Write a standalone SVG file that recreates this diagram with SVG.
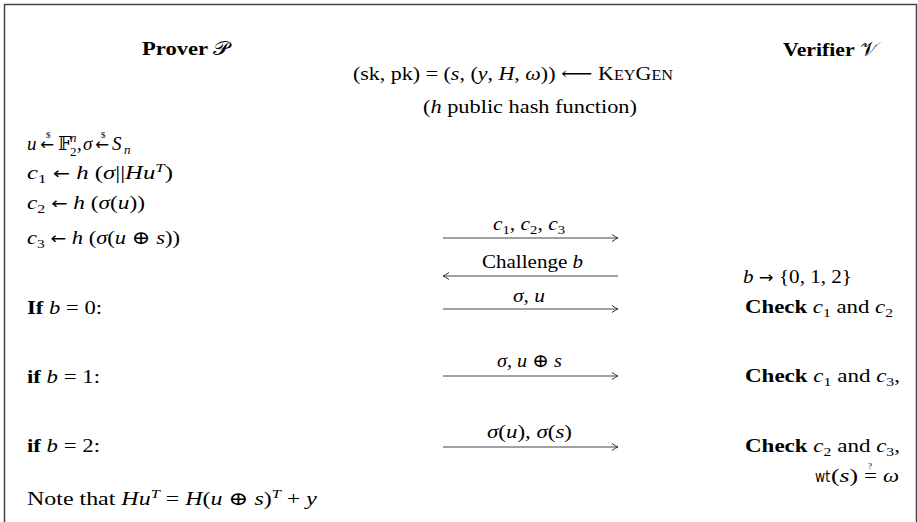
<svg xmlns="http://www.w3.org/2000/svg" width="918" height="522" viewBox="0 0 918 522">
<style>
.t{font-family:"Liberation Serif","DejaVu Serif",serif;font-size:19px;fill:#000}
.i{font-style:italic}
.b{font-weight:bold}
.n{font-weight:normal}
.s{font-size:13px}
.tiny{font-size:9px}
.sym{font-family:"DejaVu Sans",sans-serif;font-size:16px;font-style:normal}
.sf{font-family:"DejaVu Sans","Liberation Sans",sans-serif;font-size:16px}
.ar{stroke:#444;stroke-width:1;fill:none}
</style>
<defs>
<marker id="ah" markerWidth="10" markerHeight="10" refX="0" refY="0" viewBox="-8 -5 10 10" orient="auto" markerUnits="userSpaceOnUse">
<path d="M-6,-3.5 Q-2,-0.6 0,0 Q-2,0.6 -6,3.5" stroke="#333" stroke-width="1" fill="none"/>
</marker>
</defs>
<rect x="4.5" y="4.5" width="912" height="540" fill="#fff" stroke="#444" stroke-width="1.5"/>

<g id="prover-title"><text class="t b" x="142" y="55" textLength="88" lengthAdjust="spacingAndGlyphs">Prover <tspan class="n">𝒫</tspan></text></g>
<g id="verifier-title"><text class="t b" x="783" y="56" textLength="95" lengthAdjust="spacingAndGlyphs">Verifier <tspan class="n">𝒱</tspan></text></g>
<g id="keygen"><text class="t" x="353" y="80" textLength="320" lengthAdjust="spacingAndGlyphs">(sk, pk) = (<tspan class="i">s</tspan>, (<tspan class="i">y</tspan>, <tspan class="i">H</tspan>, <tspan class="i">ω</tspan>)) ⟵ K<tspan font-size="14">EY</tspan>G<tspan font-size="14">EN</tspan></text></g>
<g id="hash"><text class="t" x="423" y="113" textLength="214" lengthAdjust="spacingAndGlyphs">(<tspan class="i">h</tspan> public hash function)</text></g>

<g id="prover-steps">
<text class="t i" x="27" y="150">u</text>
<text class="t sym" x="40" y="150" textLength="14" lengthAdjust="spacingAndGlyphs">←</text>
<text class="t tiny" x="46" y="138">$</text>
<text class="t" x="58" y="150">𝔽</text>
<text class="t s i" x="70" y="142">n</text>
<text class="t s" x="70" y="156">2</text>
<text class="t" x="77" y="150">,</text>
<text class="t i" x="83" y="150">σ</text>
<text class="t sym" x="95" y="150" textLength="14" lengthAdjust="spacingAndGlyphs">←</text>
<text class="t tiny" x="101" y="138">$</text>
<text class="t i" x="112" y="150">S</text>
<text class="t s i" x="124" y="154">n</text>

<text class="t" x="27" y="179" textLength="146" lengthAdjust="spacingAndGlyphs"><tspan class="i">c</tspan><tspan class="s" dy="4">1</tspan><tspan dy="-4"> </tspan><tspan class="sym">←</tspan> <tspan class="i">h</tspan> (<tspan class="i">σ</tspan>||<tspan class="i">Hu</tspan><tspan class="s i" dy="-7">T</tspan><tspan dy="7">)</tspan></text>
<text class="t" x="27" y="209" textLength="118" lengthAdjust="spacingAndGlyphs"><tspan class="i">c</tspan><tspan class="s" dy="4">2</tspan><tspan dy="-4"> </tspan><tspan class="sym">←</tspan> <tspan class="i">h</tspan> (<tspan class="i">σ</tspan>(<tspan class="i">u</tspan>))</text>
<text class="t" x="27" y="244" textLength="153" lengthAdjust="spacingAndGlyphs"><tspan class="i">c</tspan><tspan class="s" dy="4">3</tspan><tspan dy="-4"> </tspan><tspan class="sym">←</tspan> <tspan class="i">h</tspan> (<tspan class="i">σ</tspan>(<tspan class="i">u</tspan> ⊕ <tspan class="i">s</tspan>))</text>
</g>

<g id="case0"><text class="t" x="27" y="314" textLength="75" lengthAdjust="spacingAndGlyphs"><tspan class="b">If</tspan> <tspan class="i">b</tspan> = 0:</text></g>
<g id="case1"><text class="t" x="27" y="383" textLength="73" lengthAdjust="spacingAndGlyphs"><tspan class="b">if</tspan> <tspan class="i">b</tspan> = 1:</text></g>
<g id="case2"><text class="t" x="27" y="452" textLength="73" lengthAdjust="spacingAndGlyphs"><tspan class="b">if</tspan> <tspan class="i">b</tspan> = 2:</text></g>
<g id="note"><text class="t" x="27" y="505" textLength="290" lengthAdjust="spacingAndGlyphs">Note that <tspan class="i">Hu</tspan><tspan class="s i" dy="-7">T</tspan><tspan dy="7"> = </tspan><tspan class="i">H</tspan>(<tspan class="i">u</tspan> ⊕ <tspan class="i">s</tspan>)<tspan class="s i" dy="-7">T</tspan><tspan dy="7"> + </tspan><tspan class="i">y</tspan></text></g>

<g id="verifier-steps">
<text class="t" x="743" y="283" textLength="109" lengthAdjust="spacingAndGlyphs"><tspan class="i">b</tspan> <tspan class="sym">→</tspan> {0, 1, 2}</text>
<text class="t" x="745" y="313" textLength="148" lengthAdjust="spacingAndGlyphs"><tspan class="b">Check</tspan> <tspan class="i">c</tspan><tspan class="s" dy="4">1</tspan><tspan dy="-4"> and </tspan><tspan class="i">c</tspan><tspan class="s" dy="4">2</tspan></text>
<text class="t" x="745" y="382" textLength="155" lengthAdjust="spacingAndGlyphs"><tspan class="b">Check</tspan> <tspan class="i">c</tspan><tspan class="s" dy="4">1</tspan><tspan dy="-4"> and </tspan><tspan class="i">c</tspan><tspan class="s" dy="4">3</tspan><tspan dy="-4">,</tspan></text>
<text class="t" x="745" y="452" textLength="155" lengthAdjust="spacingAndGlyphs"><tspan class="b">Check</tspan> <tspan class="i">c</tspan><tspan class="s" dy="4">2</tspan><tspan dy="-4"> and </tspan><tspan class="i">c</tspan><tspan class="s" dy="4">3</tspan><tspan dy="-4">,</tspan></text>
<text class="t sf" x="815" y="482" textLength="15" lengthAdjust="spacingAndGlyphs">wt</text>
<text class="t" x="831" y="482" textLength="27" lengthAdjust="spacingAndGlyphs">(<tspan class="i">s</tspan>)</text>
<text class="t" x="864" y="482" textLength="13" lengthAdjust="spacingAndGlyphs">=</text>
<text class="t tiny" x="868" y="469">?</text>
<text class="t i" x="883" y="482" textLength="16" lengthAdjust="spacingAndGlyphs">ω</text>
</g>

<g id="connectors">
<line class="ar" x1="443" y1="238" x2="618" y2="238" marker-end="url(#ah)"/>
<line class="ar" x1="618" y1="276" x2="443" y2="276" marker-end="url(#ah)"/>
<line class="ar" x1="443" y1="309" x2="618" y2="309" marker-end="url(#ah)"/>
<line class="ar" x1="443" y1="376" x2="618" y2="376" marker-end="url(#ah)"/>
<line class="ar" x1="443" y1="447" x2="618" y2="447" marker-end="url(#ah)"/>
<text class="t" x="493" y="230" textLength="72" lengthAdjust="spacingAndGlyphs"><tspan class="i">c</tspan><tspan class="s" dy="4">1</tspan><tspan dy="-4">, </tspan><tspan class="i">c</tspan><tspan class="s" dy="4">2</tspan><tspan dy="-4">, </tspan><tspan class="i">c</tspan><tspan class="s" dy="4">3</tspan></text>
<text class="t" x="482" y="268" textLength="101" lengthAdjust="spacingAndGlyphs">Challenge <tspan class="i">b</tspan></text>
<text class="t" x="513" y="302" textLength="32" lengthAdjust="spacingAndGlyphs"><tspan class="i">σ</tspan>, <tspan class="i">u</tspan></text>
<text class="t" x="497" y="367" textLength="65" lengthAdjust="spacingAndGlyphs"><tspan class="i">σ</tspan>, <tspan class="i">u</tspan> ⊕ <tspan class="i">s</tspan></text>
<text class="t" x="487" y="438" textLength="85" lengthAdjust="spacingAndGlyphs"><tspan class="i">σ</tspan>(<tspan class="i">u</tspan>), <tspan class="i">σ</tspan>(<tspan class="i">s</tspan>)</text>
</g>
</svg>
